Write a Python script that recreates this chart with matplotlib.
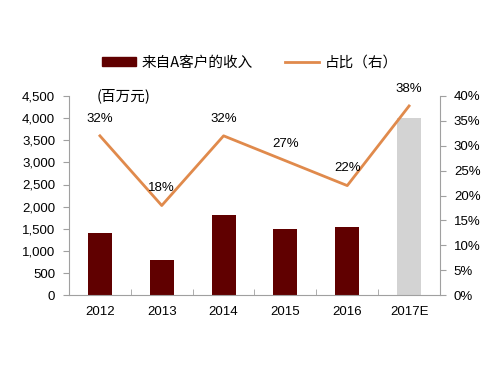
import matplotlib
matplotlib.use("Agg")
import matplotlib.pyplot as plt
import numpy as np
from matplotlib.ticker import FuncFormatter
from matplotlib.patches import Patch
from matplotlib.lines import Line2D

plt.rcParams['font.family'] = ['Liberation Sans', 'Noto Sans CJK SC', 'DejaVu Sans']

# data
years = ['2012', '2013', '2014', '2015', '2016', '2017E']
revenue = [1400, 800, 1800, 1500, 1550, 4000]   # 百万元
share = [32, 18, 32, 27, 22, 38]                 # %
share_labels = ['32%', '18%', '32%', '27%', '22%', '38%']

bar_red = '#600000'
bar_gray = '#d3d3d3'
line_orange = '#e08a4c'
spine_gray = '#a0a0a0'

fig = plt.figure(figsize=(5, 3.75), dpi=100)
ax = fig.add_axes([0.138, 0.213, 0.742, 0.531])
x = np.arange(len(years))
colors = [bar_red] * (len(years) - 1) + [bar_gray]
ax.bar(x, revenue, width=0.39, color=colors, zorder=2)

ax.set_xlim(-0.5, len(years) - 0.5)
ax.set_ylim(0, 4500)
ax.set_yticks(np.arange(0, 4501, 500))
ax.yaxis.set_major_formatter(FuncFormatter(lambda v, p: f'{int(v):,}'))
ax.set_xticks(x)
ax.set_xticklabels(years)
ax.set_xticks(np.arange(-0.5, len(years)), minor=True)
ax.tick_params(axis='x', which='major', length=0, pad=8, labelsize=9.5)
ax.tick_params(axis='x', which='minor', length=4, color=spine_gray, direction='in')
ax.tick_params(axis='y', length=4, color=spine_gray, labelsize=9.5, pad=6)
for s in ['top', 'right']:
    ax.spines[s].set_visible(False)
for s in ['left', 'bottom']:
    ax.spines[s].set_color(spine_gray)

ax2 = ax.twinx()
ax2.plot(x, share, color=line_orange, lw=2, zorder=3)
ax2.set_ylim(0, 40)
ax2.set_yticks(np.arange(0, 41, 5))
ax2.yaxis.set_major_formatter(FuncFormatter(lambda v, p: f'{int(v)}%'))
ax2.tick_params(axis='y', length=4, color=spine_gray, labelsize=9.5, pad=6)
for s in ['top', 'left', 'bottom']:
    ax2.spines[s].set_visible(False)
ax2.spines['right'].set_color(spine_gray)

for xi, v, lab in zip(x, share, share_labels):
    ax2.annotate(lab, (xi, v), xytext=(0, 8), textcoords='offset points',
                 ha='center', va='bottom', fontsize=9.5)

ax.text(0.075, 1.0, '(百万元)', transform=ax.transAxes, fontsize=10.5,
        ha='left', va='center', family=['Noto Sans CJK SC', 'DejaVu Sans'])

handles = [Patch(color=bar_red), Line2D([0], [0], color=line_orange, lw=2)]
fig.legend(handles, ['来自A客户的收入', '占比（右）'], loc='center',
           bbox_to_anchor=(0.5, 0.832), ncol=2, frameon=False,
           prop={'family': ['Noto Sans CJK SC'], 'size': 10.5},
           handlelength=2.3, handleheight=0.6, handletextpad=0.4,
           columnspacing=2.2)

fig.savefig('out.png', dpi=100)
